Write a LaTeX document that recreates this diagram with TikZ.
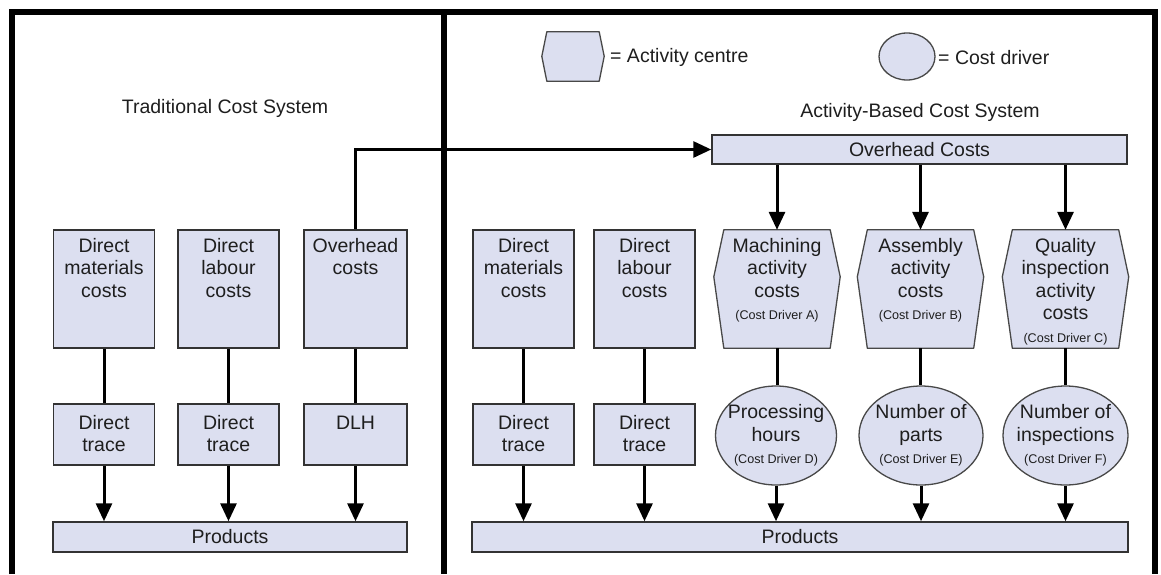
\documentclass[tikz,border=0pt]{standalone}
\usepackage{fontspec}
\setmainfont{Liberation Sans}
\usetikzlibrary{arrows.meta,shapes.geometric,calc,backgrounds}

\definecolor{boxfill}{RGB}{220,223,240}
\definecolor{boxline}{RGB}{51,51,51}
\definecolor{shapeline}{RGB}{72,72,72}
\definecolor{inktext}{RGB}{30,30,30}

\newcommand\mainfont{\fontsize{19.5}{22.5}\selectfont}
\newcommand\notefont{\fontsize{12.6}{14}\selectfont}
% fixed-size cell: width, height, first-baseline depth, lines hanging from the top edge
\newcommand\topcell[4]{\parbox[c][#2pt][t]{#1pt}{\centering\rule{0pt}{#3pt}#4\par}}
% hexagonal activity-centre outline around a node: node, side indent, depth of the side points
\newcommand\hexoutline[3]{%
  \path[hexshape] (#1.north west) -- (#1.north east)
    -- ($(#1.north east)+(#2,#3)$) -- (#1.south east) -- (#1.south west)
    -- ($(#1.north west)+(-#2,#3)$) -- cycle;}

\begin{document}
\begin{tikzpicture}[x=1pt,y=-1pt,
  every node/.style={text=inktext, font=\mainfont},
  cell/.style={draw=boxline, line width=1.5pt, fill=boxfill, inner sep=0pt},
  hexcell/.style={inner sep=0pt},
  hexshape/.style={draw=shapeline, line width=1.3pt, fill=boxfill, line join=round},
  driver/.style={ellipse, draw=shapeline, line width=1.3pt, fill=boxfill, inner sep=0pt},
  drivertext/.style={align=center, text=inktext, font=\mainfont, inner sep=0pt},
  plain/.style={inner sep=0pt},
  link/.style={line width=3pt},
  feed/.style={line width=3pt, -{Triangle[length=18pt,width=16pt]}},
  frame/.style={line width=6pt},
]
\useasboundingbox (0,0) rectangle (1161,574);

% outer frame and panel divider
\draw[frame] (11.5,574) -- (11.5,12) -- (1155,12) -- (1155,574);
\draw[frame] (443.5,12) -- (443.5,574);

% ---------- legend ----------
\node[hexcell, minimum width=52pt, minimum height=49pt] (lhex) at (573,56.5) {};
\node[plain, anchor=west] (lhext) at (610,57.5) {= Activity centre};
\node[driver, minimum width=56pt, minimum height=47pt] (ldrv) at (907,56.5) {};
\node[plain, anchor=west] (ldrvt) at (938,57.5) {= Cost driver};

% ---------- traditional cost system ----------
\node[plain] (ttitle) at (225,108) {Traditional Cost System};

\node[cell] (tdm) at (104,289)   {\topcell{101}{118}{22}{Direct\\materials\\costs}};
\node[cell] (tdl) at (228.5,289) {\topcell{101}{118}{22}{Direct\\labour\\costs}};
\node[cell] (toh) at (355.5,289) {\topcell{103}{118}{22}{Overhead\\costs}};

\node[cell] (tdmt) at (104,434.5)   {\topcell{101}{61}{25}{Direct\\trace}};
\node[cell] (tdlt) at (228.5,434.5) {\topcell{101}{61}{25}{Direct\\trace}};
\node[cell] (tdlh) at (355.5,434.5) {\topcell{103}{61}{25}{DLH}};

\node[cell, minimum width=354pt, minimum height=30pt] (tprod) at (230,537) {Products};

% ---------- activity-based cost system ----------
\node[plain] (atitle) at (920,112) {Activity-Based Cost System};
\node[cell, minimum width=415pt, minimum height=29pt] (obar) at (919.5,149.5) {Overhead Costs};

\node[cell] (rdm) at (523.5,289) {\topcell{101}{118}{22}{Direct\\materials\\costs}};
\node[cell] (rdl) at (644.5,289) {\topcell{101}{118}{22}{Direct\\labour\\costs}};

\node[hexcell] (hma) at (777,289)
  {\topcell{106}{118}{22}{Machining\\activity\\costs\\{\notefont (Cost Driver A)}}};
\node[hexcell] (has) at (920.5,289)
  {\topcell{106}{118}{22}{Assembly\\activity\\costs\\{\notefont (Cost Driver B)}}};
\node[hexcell] (hqi) at (1065.5,289)
  {\topcell{106}{118}{22}{Quality\\inspection\\activity\\costs\\{\notefont (Cost Driver C)}}};

\node[cell] (rdmt) at (523.5,434.5) {\topcell{101}{61}{25}{Direct\\trace}};
\node[cell] (rdlt) at (644.5,434.5) {\topcell{101}{61}{25}{Direct\\trace}};

\node[driver, minimum width=121pt, minimum height=99pt,
  label={[drivertext]center:Processing\\hours\\{\notefont (Cost Driver D)}}] (dph) at (776,435.5) {};
\node[driver, minimum width=124pt, minimum height=99pt,
  label={[drivertext]center:Number of\\parts\\{\notefont (Cost Driver E)}}] (dnp) at (921,435.5) {};
\node[driver, minimum width=125pt, minimum height=99pt,
  label={[drivertext]center:Number of\\inspections\\{\notefont (Cost Driver F)}}] (dni) at (1065.5,435.5) {};

\node[cell, minimum width=656pt, minimum height=30pt] (rprod) at (800,537) {Products};

% hexagonal outlines of the activity centres
\begin{pgfonlayer}{background}
  \hexoutline{lhex}{5}{24.5}
  \hexoutline{hma}{10}{47}
  \hexoutline{has}{10}{47}
  \hexoutline{hqi}{10}{47}
\end{pgfonlayer}

% ---------- connectors: traditional ----------
\draw[link] (tdm) -- (tdmt);
\draw[link] (tdl) -- (tdlt);
\draw[link] (toh) -- (tdlh);
\draw[feed] (tdmt.south) -- (tdmt.south |- tprod.north);
\draw[feed] (tdlt.south) -- (tdlt.south |- tprod.north);
\draw[feed] (tdlh.south) -- (tdlh.south |- tprod.north);
\draw[feed] (toh.north) |- (obar.west);

% ---------- connectors: activity-based ----------
\draw[feed] (hma.north |- obar.south) -- (hma.north);
\draw[feed] (has.north |- obar.south) -- (has.north);
\draw[feed] (hqi.north |- obar.south) -- (hqi.north);
\draw[link] (rdm) -- (rdmt);
\draw[link] (rdl) -- (rdlt);
\draw[link] (hma.south) -- (dph.north -| hma.south);
\draw[link] (has.south) -- (dnp.north -| has.south);
\draw[link] (hqi.south) -- (dni.north -| hqi.south);
\draw[feed] (rdmt.south) -- (rdmt.south |- rprod.north);
\draw[feed] (rdlt.south) -- (rdlt.south |- rprod.north);
\draw[feed] (dph.south) -- (dph.south |- rprod.north);
\draw[feed] (dnp.south) -- (dnp.south |- rprod.north);
\draw[feed] (dni.south) -- (dni.south |- rprod.north);
\end{tikzpicture}
\end{document}
